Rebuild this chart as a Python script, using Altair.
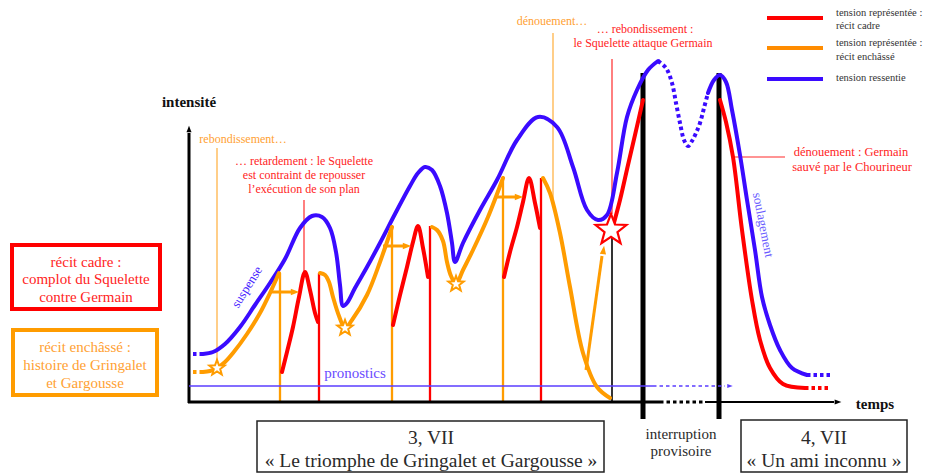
import altair as alt
import pandas as pd

# ---------------- data (picture coordinates: x = temps, y = intensité, downward) -------------
# tension ressentie (blue)
blue_start_x = [193, 203]
blue_start_y = [354, 354]
blue1_x = [203, 213, 225, 240, 255, 270, 285, 300, 312, 322, 330, 336, 340, 343, 347, 355, 367, 380,
           395, 410, 418, 425, 432, 440, 447, 452, 455, 463, 480, 497, 517, 538, 557, 573, 587, 598,
           607, 617, 627, 637, 648, 658]
blue1_y = [354, 352, 344, 327, 305, 283, 259, 228, 216, 217, 228, 252, 285, 306, 303, 288, 267, 243,
           214, 186, 173, 167, 170, 186, 213, 243, 262, 243, 210, 180, 140, 117, 127, 167, 210, 220,
           215, 173, 117, 90, 70, 61]
blue_mid_x = [658, 666, 672, 676, 680, 684, 688, 692, 696, 700, 704, 708]
blue_mid_y = [61, 68, 83, 103, 123, 140, 146, 141, 133, 123, 108, 93]
blue2_x = [708, 714, 720, 726, 732, 740, 747, 755, 762, 770, 780, 792, 807]
blue2_y = [93, 80, 75, 82, 110, 155, 200, 250, 297, 325, 350, 368, 375]
blue_end_x = [807, 830]
blue_end_y = [375, 375]

# tension représentée : récit cadre (red)
red1_x = [282, 287, 293, 299, 305, 310, 315, 318]
red1_y = [372, 352, 327, 297, 272, 290, 313, 322]
red2_x = [393, 400, 407, 413, 418, 423, 428]
red2_y = [325, 295, 267, 242, 226, 248, 277]
red3_x = [504, 510, 517, 523, 529, 535, 540]
red3_y = [277, 252, 227, 202, 178, 203, 228]
red4_x = [612, 620, 628, 635, 643]
red4_y = [230, 200, 165, 135, 100]
red5_x = [720, 726, 733, 742, 752, 760, 770, 783, 805]
red5_y = [100, 122, 157, 230, 300, 340, 368, 384, 388]
red_end_x = [805, 830]
red_end_y = [388, 388]

# tension représentée : récit enchâssé (orange)
orange_start_x = [193, 203]
orange_start_y = [372, 372]
orange1_x = [203, 210, 217, 225, 233, 247, 260, 270, 279]
orange1_y = [372, 371, 368, 362, 353, 334, 313, 293, 273]
orange2_x = [320, 325, 329, 333, 339, 345, 352, 367, 380, 392]
orange2_y = [273, 275, 282, 297, 316, 328, 320, 295, 262, 227]
orange3_x = [432, 437, 443, 447, 451, 456, 463, 473, 488, 503]
orange3_y = [227, 230, 241, 262, 276, 284, 270, 250, 217, 178]
orange4_x = [543, 550, 560, 570, 583, 597, 610]
orange4_y = [178, 193, 233, 287, 353, 387, 398]

# vertical cuts between the two stories
orange_cut_x = [280, 392, 503]
orange_cut_top = [273, 227, 178]
red_cut_x = [319, 430, 541]
red_cut_top = [273, 226, 178]
baseline_y = 402

# stars (rebondissements)
orange_star_x = [217, 345, 456]
orange_star_y = [368, 328, 284]
red_star_x = [611]
red_star_y = [230]

# ---------------- build tables ----------------
line_rows, dot_rows, straight_rows = [], [], []


def add(rows, name, xs, ys, col, w):
    for i, (x, y) in enumerate(zip(xs, ys)):
        rows.append(dict(seg=name, i=i, x=x, y=y, col=col, w=w))


BLUE, RED, ORANGE, BLACK = "#3a0bff", "#ff0000", "#ff9c00", "#000000"

add(line_rows, "b1", blue1_x, blue1_y, BLUE, 4)
add(line_rows, "b2", blue2_x, blue2_y, BLUE, 4)
for k, (xs, ys) in enumerate([(red1_x, red1_y), (red2_x, red2_y), (red3_x, red3_y),
                              (red4_x, red4_y), (red5_x, red5_y)]):
    add(line_rows, f"r{k}", xs, ys, RED, 4)
for k, (xs, ys) in enumerate([(orange1_x, orange1_y), (orange2_x, orange2_y),
                              (orange3_x, orange3_y), (orange4_x, orange4_y)]):
    add(line_rows, f"o{k}", xs, ys, ORANGE, 4)

add(dot_rows, "bs", blue_start_x, blue_start_y, BLUE, 4)
add(dot_rows, "bm", blue_mid_x, blue_mid_y, BLUE, 4)
add(dot_rows, "be", blue_end_x, blue_end_y, BLUE, 4)
add(dot_rows, "re", red_end_x, red_end_y, RED, 4)
add(dot_rows, "os", orange_start_x, orange_start_y, ORANGE, 4)
add(dot_rows, "ax", [660, 705], [402, 402], BLACK, 3)
add(dot_rows, "pr", [653, 725], [386, 386], "#5a3dff", 1.3)

for k, (x, t) in enumerate(zip(orange_cut_x, orange_cut_top)):
    add(straight_rows, f"oc{k}", [x, x], [t, baseline_y], ORANGE, 2.3)
for k, (x, t) in enumerate(zip(red_cut_x, red_cut_top)):
    add(straight_rows, f"rc{k}", [x, x], [t, baseline_y], RED, 2.3)
# annotation leader lines
add(straight_rows, "t1", [217, 217], [148, 360], "#ffae3a", 1.2)
add(straight_rows, "t2", [553, 553], [33, 203], "#ffae3a", 1.2)
add(straight_rows, "t3", [304, 304], [200, 272], "#ff2a2a", 1.2)
add(straight_rows, "t4", [612, 612], [59, 214], "#ff2a2a", 1.2)
add(straight_rows, "t5", [733, 785], [157, 157], "#ff2a2a", 1.2)
add(straight_rows, "t6", [612, 612], [230, 402], BLACK, 1.6)
# thick interruption bars
add(straight_rows, "k1", [643, 643], [73, 419], BLACK, 5)
add(straight_rows, "k2", [719, 719], [73, 419], BLACK, 5)
# axes
add(straight_rows, "ay", [189, 189], [403, 133], BLACK, 3)
add(straight_rows, "ax1", [188, 660], [402, 402], BLACK, 3)
add(straight_rows, "ax2", [705, 834], [402, 402], BLACK, 2.2)
# pronostics arrow
add(straight_rows, "pr", [189, 653], [386, 386], "#5a3dff", 1.3)
# orange arrows
add(straight_rows, "a1", [270, 292], [292, 292], ORANGE, 3)
add(straight_rows, "a2", [383, 403], [246, 246], ORANGE, 3)
add(straight_rows, "a3", [497, 515], [197, 197], ORANGE, 3)
add(straight_rows, "a4", [586, 602], [370, 256], ORANGE, 3)
# legend
add(straight_rows, "l1", [767, 823], [18, 18], RED, 4)
add(straight_rows, "l2", [767, 823], [48, 48], "#ff8c00", 4)
add(straight_rows, "l3", [767, 823], [79, 79], BLUE, 4)

heads = pd.DataFrame(dict(
    x=[295, 407, 519, 603.5, 189, 838, 730],
    y=[292, 246, 197, 250, 129, 402, 386],
    ang=[0, 0, 0, 278, 270, 0, 0],
    sz=[70, 70, 70, 70, 45, 45, 30],
    col=[ORANGE, ORANGE, ORANGE, ORANGE, BLACK, BLACK, "#5a3dff"],
))

stars = pd.DataFrame(dict(
    x=orange_star_x + red_star_x,
    y=orange_star_y + red_star_y,
    sz=[260, 260, 260, 1050],
    col=[ORANGE, ORANGE, ORANGE, RED],
    w=[2, 2, 2, 2.2],
))

boxes = pd.DataFrame(dict(
    x=[12, 13, 257, 741], x2=[160, 157, 604, 907],
    y=[245, 330, 421, 420], y2=[309, 395, 472, 472],
    col=[RED, ORANGE, "#222222", "#222222"], w=[4, 4, 1.5, 1.5],
))

T_RED, T_OR, T_DK = "#ff2424", "#ffa133", "#2a2a2a"
text_rows = [
    ("rebondissement…", 243, 139, T_OR, 12, 0),
    ("… retardement : le Squelette", 304, 161, T_RED, 12, 0),
    ("est contraint de repousser", 304, 175, T_RED, 12, 0),
    ("l’exécution de son plan", 304, 189, T_RED, 12, 0),
    ("dénouement…", 552, 21, T_OR, 12, 0),
    ("… rebondissement :", 645, 29, T_RED, 12, 0),
    ("le Squelette attaque Germain", 643, 43, T_RED, 12, 0),
    ("dénouement : Germain", 851, 152, T_RED, 12.5, 0),
    ("sauvé par le Chourineur", 852, 167, T_RED, 12.5, 0),
    ("suspense", 247, 287, "#4a1fff", 13, 302),
    ("soulagement", 763, 225, "#6a5cff", 13, 79),
    ("pronostics", 355, 373, "#6a4cff", 15, 0),
    ("récit cadre :", 86, 262, T_RED, 15, 0),
    ("complot du Squelette", 86, 279, T_RED, 15, 0),
    ("contre Germain", 86, 297, T_RED, 15, 0),
    ("récit enchâssé :", 85, 347, T_OR, 15, 0),
    ("histoire de Gringalet", 85, 365, T_OR, 15, 0),
    ("et Gargousse", 85, 383, T_OR, 15, 0),
    ("3, VII", 431, 438, T_DK, 19.5, 0),
    ("« Le triomphe de Gringalet et Gargousse »", 431, 461, T_DK, 19.5, 0),
    ("4, VII", 824, 438, T_DK, 19.5, 0),
    ("« Un ami inconnu »", 824, 461, T_DK, 19.5, 0),
    ("interruption", 681, 434, T_DK, 15, 0),
    ("provisoire", 681, 451, T_DK, 15, 0),
]
texts = pd.DataFrame(text_rows, columns=["t", "x", "y", "col", "sz", "ang"])

legend_texts = pd.DataFrame(dict(
    t=["tension représentée :", "récit cadre", "tension représentée :", "récit enchâssé",
       "tension ressentie"],
    x=[836] * 5,
    y=[13, 26, 43, 57, 78],
))
bold_texts = pd.DataFrame(dict(t=["intensité", "temps"], x=[189, 875], y=[102, 404]))

# ---------------- chart ----------------
W, H = 922, 466
xs = alt.Scale(domain=[8, 8 + W], nice=False, zero=False)
ys = alt.Scale(domain=[8, 8 + H], nice=False, zero=False, reverse=True)
X = alt.X("x:Q", scale=xs, axis=None)
Y = alt.Y("y:Q", scale=ys, axis=None)
COL = alt.Color("col:N", scale=None)
FONT = "Liberation Serif"

rects = alt.Chart(boxes).mark_rect(fill="white", fillOpacity=0).encode(
    x=X, x2="x2:Q", y=Y, y2="y2:Q",
    stroke=alt.Stroke("col:N", scale=None),
    strokeWidth=alt.StrokeWidth("w:Q", scale=None),
)

straight = alt.Chart(pd.DataFrame(straight_rows)).mark_line(interpolate="linear", strokeCap="butt").encode(
    x=X, y=Y, color=COL, detail="seg:N", order="i:Q",
    strokeWidth=alt.StrokeWidth("w:Q", scale=None),
)

curves = alt.Chart(pd.DataFrame(line_rows)).mark_line(interpolate="catmull-rom", strokeCap="round").encode(
    x=X, y=Y, color=COL, detail="seg:N", order="i:Q",
    strokeWidth=alt.StrokeWidth("w:Q", scale=None),
)

dotted = alt.Chart(pd.DataFrame(dot_rows)).mark_line(
    interpolate="catmull-rom", strokeDash=[3.5, 3], strokeCap="butt"
).encode(
    x=X, y=Y, color=COL, detail="seg:N", order="i:Q",
    strokeWidth=alt.StrokeWidth("w:Q", scale=None),
)

arrow_path = "M1,0L-1,-0.75L-1,0.75Z"
arrowheads = alt.Chart(heads).mark_point(shape=arrow_path, filled=True, opacity=1).encode(
    x=X, y=Y, color=COL,
    size=alt.Size("sz:Q", scale=None),
    angle=alt.Angle("ang:Q", scale=None),
)

star_path = ("M0,-1L0.247,-0.34L0.951,-0.309L0.399,0.13L0.588,0.809L0,0.42L-0.588,0.809"
             "L-0.399,0.13L-0.951,-0.309L-0.247,-0.34Z")
star_marks = alt.Chart(stars).mark_point(shape=star_path, filled=False, fill="white",
                                         fillOpacity=1, opacity=1).encode(
    x=X, y=Y,
    stroke=alt.Stroke("col:N", scale=None),
    strokeWidth=alt.StrokeWidth("w:Q", scale=None),
    size=alt.Size("sz:Q", scale=None),
)

labels = alt.Chart(texts).mark_text(font=FONT, align="center", baseline="middle").encode(
    x=X, y=Y, text="t:N", color=COL,
    size=alt.Size("sz:Q", scale=None),
    angle=alt.Angle("ang:Q", scale=None),
)

legend_labels = alt.Chart(legend_texts).mark_text(
    font=FONT, align="left", baseline="middle", fontSize=10.5, color="#333333"
).encode(x=X, y=Y, text="t:N")

bold_labels = alt.Chart(bold_texts).mark_text(
    font=FONT, align="center", baseline="middle", fontSize=15, fontWeight="bold", color="#111111"
).encode(x=X, y=Y, text="t:N")

chart = alt.layer(
    rects, straight, curves, dotted, arrowheads, star_marks, labels, legend_labels, bold_labels
).properties(
    width=W, height=H, padding=0, autosize="none", background="white"
).configure_view(stroke=None)

chart.save("out.html", embed_options={"renderer": "svg", "actions": False})
